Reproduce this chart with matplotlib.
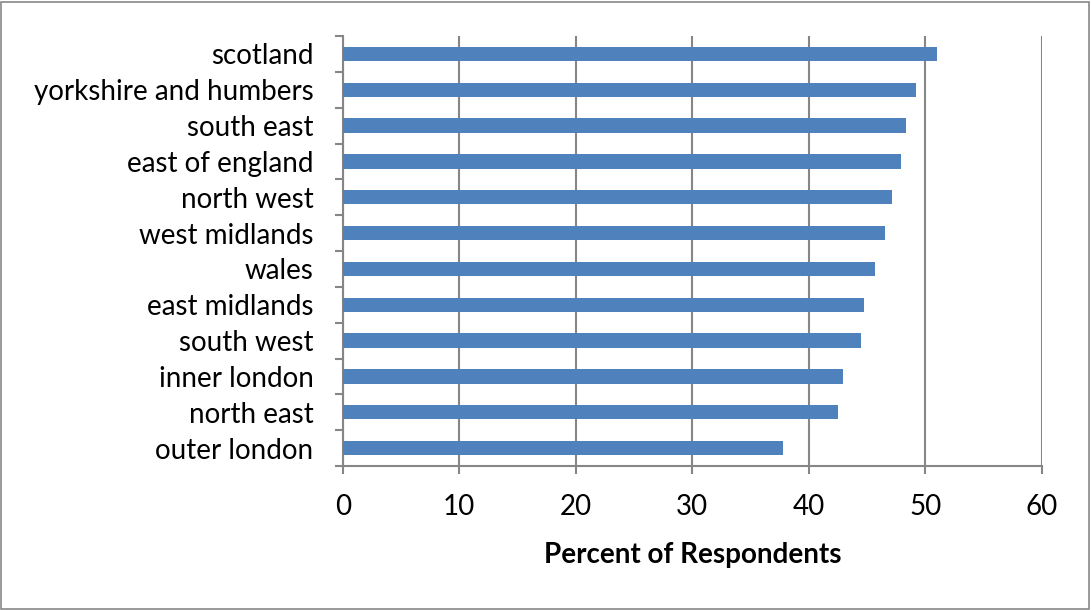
import matplotlib.pyplot as plt
import numpy as np
from matplotlib.patches import Rectangle

# regions, top to bottom as shown
regions = ['scotland', 'yorkshire and humbers', 'south east', 'east of england',
           'north west', 'west midlands', 'wales', 'east midlands',
           'south west', 'inner london', 'north east', 'outer london']
percent = [51.0, 49.2, 48.3, 47.9, 47.1, 46.5, 45.7, 44.7, 44.5, 42.9, 42.5, 37.8]
xticks = [0, 10, 20, 30, 40, 50, 60]

plt.rcParams['font.family'] = ['Lato', 'DejaVu Sans']

fig = plt.figure(figsize=(10.91, 6.10), dpi=100)
ax = fig.add_axes([342.7 / 1091, 1 - 466 / 610, (1042 - 342.7) / 1091, (466 - 36) / 610])

n = len(regions)
y = np.arange(n)[::-1]
ax.barh(y, percent, height=0.4, color='#4F81BD', zorder=3)

grid_col = '#868686'
ax.set_xlim(0, 60)
ax.set_ylim(-0.5, n - 0.5)
ax.set_xticks(xticks)
ax.set_xticklabels([str(t) for t in xticks], fontsize=20)
ax.xaxis.grid(True, color=grid_col, linewidth=1.5, zorder=0)

ax.set_yticks(y)
ax.set_yticklabels(regions, fontsize=20)
ax.tick_params(axis='y', length=0, pad=21)
ax.set_yticks(np.arange(-0.5, n, 1.0), minor=True)
ax.tick_params(axis='y', which='minor', length=6, width=1.5, color=grid_col)
ax.tick_params(axis='x', length=6, width=1.5, color=grid_col, pad=14)

for side in ['top', 'right']:
    ax.spines[side].set_visible(False)
for side in ['left', 'bottom']:
    ax.spines[side].set_color(grid_col)
    ax.spines[side].set_linewidth(1.5)

ax.set_xlabel('Percent of Respondents', fontsize=20, fontweight='bold', labelpad=16)

fig.patches.append(Rectangle((0.001, 0.002), 0.997, 0.995, transform=fig.transFigure,
                             fill=False, edgecolor='#888888', linewidth=1.2))

fig.savefig('out.png', dpi=100)
